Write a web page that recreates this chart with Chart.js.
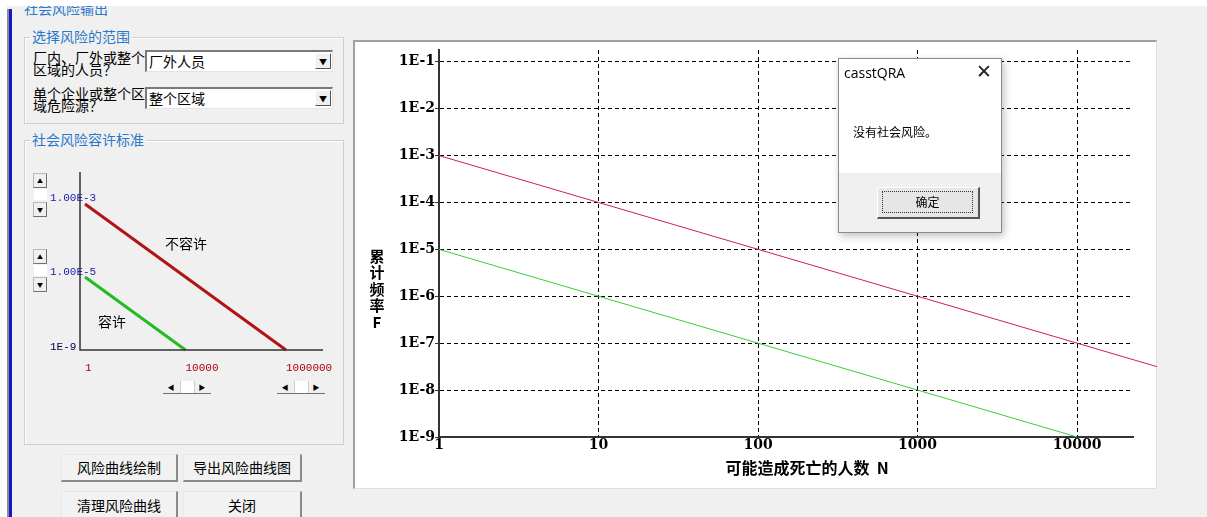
<!DOCTYPE html>
<html>
<head>
<meta charset="utf-8">
<script src="https://cdn.jsdelivr.net/npm/chart.js@4.4.0/dist/chart.umd.min.js"></script>
<style>
  body { margin: 0; width: 1207px; height: 517px; overflow: hidden; background: #f0f0f0; position: relative; font-family: "Noto Sans CJK SC", sans-serif; }
  .abs { position: absolute; }
  .group { position: absolute; border: 1px solid #cfcfcf; box-shadow: inset 1px 1px 0 #fff; }
  .legend { position: absolute; background: #f0f0f0; color: #2a78c8; font-size: 14px; line-height: 16px; padding: 0 2px; }
  .lbl { position: absolute; font-size: 14px; line-height: 12px; color: #000; white-space: nowrap; }
  .combo { position: absolute; background: #fff; border-top: 2px solid #7a7a7a; border-left: 2px solid #7a7a7a; border-right: 1px solid #e4e4e4; border-bottom: 1px solid #e4e4e4; font-size: 14px; line-height: 19px; padding-left: 2px; box-sizing: border-box; }
  .combo .arrow { position: absolute; right: 1px; top: 1px; width: 16px; height: 16px; background: #f0f0f0; border-right: 1px solid #555; border-bottom: 1px solid #555; border-top: 1px solid #fff; border-left: 1px solid #fff; font-size: 8px; line-height: 16px; text-align: center; box-sizing: border-box; }
  .spin { position: absolute; width: 12px; height: 13px; background: #f0f0f0; border: 1px solid #b8b8b8; border-right-color: #707070; border-bottom-color: #707070; font-size: 6px; line-height: 13px; text-align: center; }
  .spinbox { position: absolute; width: 13px; height: 11px; background: #fff; }
  .scroll { position: absolute; height: 12px; background: #f0f0f0; border-bottom: 1px solid #707070; }
  .scroll span { position: absolute; top: 0; height: 12px; font-size: 7px; line-height: 12px; text-align: center; width: 12px; }
  .btn { position: absolute; background: #f2f2f2; border: 1px solid #e8e8e8; border-right: 2px solid #8a8a8a; border-bottom: 2px solid #8a8a8a; font-size: 14px; text-align: center; box-sizing: border-box; }
</style>
</head>
<body>
<div class="abs" style="left:24px;top:-2px;font-size:14px;color:#2a78c8;">社会风险输出</div>
<div class="abs" style="left:0;top:0;width:1207px;height:6px;background:#fff;"></div>
<div class="abs" style="left:0;top:0;width:7px;height:517px;background:#fff;"></div>
<div class="abs" style="left:7px;top:9px;width:2px;height:508px;background:#8c8c8c;"></div>
<div class="abs" style="left:9px;top:9px;width:3px;height:508px;background:#1818cc;"></div>

<!-- 选择风险的范围 -->
<div class="group" style="left:24px;top:37px;width:318px;height:85px;"></div>
<div class="legend" style="left:30px;top:28px;">选择风险的范围</div>
<div class="lbl" style="left:33px;top:51px;">厂内、厂外或整个<br>区域的人员？</div>
<div class="combo" style="left:145px;top:50px;width:188px;height:22px;">厂外人员<div class="arrow">▼</div></div>
<div class="lbl" style="left:33px;top:87px;">单个企业或整个区<br>域危险源？</div>
<div class="combo" style="left:145px;top:87px;width:188px;height:22px;">整个区域<div class="arrow">▼</div></div>

<!-- 社会风险容许标准 -->
<div class="group" style="left:24px;top:140px;width:318px;height:303px;"></div>
<div class="legend" style="left:30px;top:131px;">社会风险容许标准</div>

<div class="spin" style="left:33px;top:173px;">▲</div>
<div class="spinbox" style="left:34px;top:189px;"></div>
<div class="spin" style="left:33px;top:202px;">▼</div>
<div class="spin" style="left:33px;top:249px;">▲</div>
<div class="spinbox" style="left:34px;top:265px;"></div>
<div class="spin" style="left:33px;top:277px;">▼</div>

<canvas id="tolChart" class="abs" width="295" height="212" style="left:45px;top:165px;"></canvas>
<div class="abs" style="left:165px;top:233px;font-size:14px;">不容许</div>
<div class="abs" style="left:98px;top:311px;font-size:14px;">容许</div>

<div class="scroll" style="left:163px;top:381px;width:48px;">
  <span style="left:2px;">◀</span>
  <span style="left:17px;background:#fff;width:13px;border-left:1px solid #ccc;border-right:1px solid #ccc;"></span>
  <span style="left:33px;">▶</span>
</div>
<div class="scroll" style="left:277px;top:381px;width:48px;">
  <span style="left:2px;">◀</span>
  <span style="left:17px;background:#fff;width:13px;border-left:1px solid #ccc;border-right:1px solid #ccc;"></span>
  <span style="left:33px;">▶</span>
</div>

<div class="btn" style="left:61px;top:454px;width:117px;height:28px;line-height:25px;">风险曲线绘制</div>
<div class="btn" style="left:183px;top:454px;width:119px;height:28px;line-height:25px;">导出风险曲线图</div>
<div class="btn" style="left:61px;top:491px;width:117px;height:30px;line-height:26px;">清理风险曲线</div>
<div class="btn" style="left:183px;top:491px;width:119px;height:30px;line-height:26px;">关闭</div>

<!-- main chart panel -->
<div class="abs" style="left:353px;top:40px;width:804px;height:449px;background:#fff;border-top:2px solid #a0a0a0;border-left:2px solid #a0a0a0;border-right:1px solid #e0e0e0;border-bottom:1px solid #e0e0e0;box-sizing:border-box;"></div>
<canvas id="mainChart" class="abs" width="803" height="448" style="left:354px;top:41px;"></canvas>

<!-- message box -->
<div class="abs" style="left:838px;top:58px;width:164px;height:175px;background:#f0f0f0;border:1px solid #8a8a8a;box-sizing:border-box;box-shadow:2px 3px 8px rgba(0,0,0,0.25);">
  <div class="abs" style="left:0;top:0;width:162px;height:114px;background:#fff;"></div>
  <div class="abs" style="left:5px;top:4px;font-family:'Open Sans',sans-serif;font-size:14px;color:#000;">casstQRA</div>
  <div class="abs" style="left:137px;top:1px;font-family:'DejaVu Sans',sans-serif;font-size:19px;font-weight:200;color:#222;">✕</div>
  <div class="abs" style="left:14px;top:64px;font-size:12px;color:#000;">没有社会风险。</div>
  <div class="abs" style="left:38px;top:128px;width:103px;height:32px;background:#e6e6e6;border:1px solid #fff;border-right:2px solid #555;border-bottom:2px solid #555;box-sizing:border-box;">
    <div class="abs" style="left:4px;top:3px;width:91px;height:22px;border:1px dotted #333;box-sizing:border-box;font-size:12px;line-height:20px;text-align:center;">确定</div>
  </div>
</div>

<script>
// main chart data: F-N curve criteria (log-log)
const nTicks = [1, 10, 100, 1000, 10000];
const nLabels = ['1', '10', '100', '1000', '10000'];
const fTicks = [1e-9, 1e-8, 1e-7, 1e-6, 1e-5, 1e-4, 1e-3, 1e-2, 1e-1];
const fLabels = ['1E-9', '1E-8', '1E-7', '1E-6', '1E-5', '1E-4', '1E-3', '1E-2', '1E-1'];

const upperN = [1, 10, 100, 1000, 10000, 31623];
const upperF = [1e-3, 1e-4, 1e-5, 1e-6, 1e-7, 3.16e-8];
const lowerN = [1, 10, 100, 1000, 10000];
const lowerF = [1e-5, 1e-6, 1e-7, 1e-8, 1e-9];

const xTitle = '可能造成死亡的人数  N';
const yTitle = '累计频率F';

// small tolerance criteria sketch
const tolN = ['1', '10000', '1000000'];
const tolF = ['1.00E-3', '1.00E-5', '1E-9'];
const intolN = ['1', '1000000'];
const intolF = ['1.00E-3', '1E-9'];
const tolerN = ['1', '10000'];
const tolerF = ['1.00E-5', '1E-9'];

const tickFont = { family: 'DejaVu Serif', size: 14, weight: 'bold' };

// draws axis titles (y title is stacked vertically)
const axisTitles = {
  id: 'axisTitles',
  afterDraw(chart) {
    const { ctx, chartArea } = chart;
    ctx.save();
    ctx.fillStyle = '#000';
    ctx.textAlign = 'center';
    ctx.textBaseline = 'middle';
    ctx.font = 'bold 16px "Noto Sans CJK SC"';
    ctx.fillText(xTitle, (chartArea.left + chartArea.right) / 2 + 21, chartArea.bottom + 31);
    ctx.font = 'bold 15px "Noto Sans CJK SC"';
    yTitle.split('').forEach((ch, i) => {
      ctx.fillText(ch, chartArea.left - 62, chartArea.top + 206 + i * 16.5);
    });
    ctx.restore();
  }
};

new Chart(document.getElementById('mainChart'), {
  type: 'line',
  data: {
    datasets: [
      {
        data: upperN.map((n, i) => ({ x: n, y: upperF[i] })),
        borderColor: '#cc2244',
        borderWidth: 1,
        pointRadius: 0,
        clip: false,
      },
      {
        data: lowerN.map((n, i) => ({ x: n, y: lowerF[i] })),
        borderColor: '#3ccc3c',
        borderWidth: 1,
        pointRadius: 0,
      },
    ],
  },
  options: {
    responsive: false,
    animation: false,
    devicePixelRatio: 1,
    layout: { padding: { top: 9, right: 24, left: 0, bottom: 0 } },
    plugins: { legend: { display: false }, tooltip: { enabled: false } },
    scales: {
      x: {
        type: 'logarithmic',
        min: 1,
        max: 22400,
        afterBuildTicks: (scale) => { scale.ticks = nTicks.map((v) => ({ value: v })); },
        afterFit: (scale) => { scale.height = 52; },
        ticks: {
          font: tickFont,
          color: '#000',
          padding: 0,
          maxRotation: 0,
          callback: (v) => nLabels[nTicks.indexOf(v)],
        },
        grid: { color: '#000', drawTicks: false, lineWidth: 1 },
        border: { color: '#333', width: 2, dash: [4, 3] },
      },
      y: {
        type: 'logarithmic',
        min: 1e-9,
        max: 0.178,
        afterBuildTicks: (scale) => { scale.ticks = fTicks.map((v) => ({ value: v })); },
        afterFit: (scale) => { scale.width = 85; },
        ticks: {
          font: tickFont,
          color: '#000',
          padding: 0,
          callback: (v) => fLabels[fTicks.findIndex((t) => Math.abs(t - v) / t < 1e-6)],
        },
        grid: { color: '#000', tickColor: '#333', tickLength: 4, lineWidth: 1 },
        border: { color: '#333', width: 2, dash: [4, 3] },
      },
    },
  },
  plugins: [axisTitles],
});

// axis lines of the sketch run past the first/last category;
// y labels overlap the axis line, so they are drawn here too
const sketchAxes = {
  id: 'sketchAxes',
  afterDraw(chart) {
    const { ctx, chartArea } = chart;
    const yScale = chart.scales.y;
    ctx.save();
    ctx.strokeStyle = '#333';
    ctx.lineWidth = 1.5;
    ctx.beginPath();
    ctx.moveTo(chartArea.left - 5, chartArea.top - 32);
    ctx.lineTo(chartArea.left - 5, chartArea.bottom);
    ctx.lineTo(chartArea.right + 37, chartArea.bottom);
    ctx.stroke();

    ctx.font = '11px "Liberation Mono"';
    ctx.textAlign = 'left';
    ctx.textBaseline = 'middle';
    tolF.forEach((lab, i) => {
      ctx.fillStyle = i < 2 ? '#1c1ca8' : '#000050';
      ctx.fillText(lab, chartArea.left - 35, yScale.getPixelForValue(i) - 6 + i * 1.5);
    });
    ctx.restore();
  }
};

new Chart(document.getElementById('tolChart'), {
  type: 'line',
  data: {
    datasets: [
      {
        data: intolN.map((n, i) => ({ x: n, y: intolF[i] })),
        borderColor: '#b01414',
        borderWidth: 3,
        pointRadius: 0,
        clip: false,
      },
      {
        data: tolerN.map((n, i) => ({ x: n, y: tolerF[i] })),
        borderColor: '#22bb22',
        borderWidth: 3,
        pointRadius: 0,
        clip: false,
      },
    ],
  },
  options: {
    responsive: false,
    animation: false,
    devicePixelRatio: 1,
    layout: { padding: { top: 39, right: 54, left: 5, bottom: 0 } },
    plugins: { legend: { display: false }, tooltip: { enabled: false } },
    scales: {
      x: {
        type: 'category',
        labels: tolN,
        offset: false,
        afterFit: (scale) => { scale.height = 27; },
        ticks: {
          align: 'start',
          padding: 3,
          maxRotation: 0,
          autoSkip: false,
          color: '#b00010',
          font: { family: 'Liberation Mono', size: 11 },
        },
        grid: { display: false },
        border: { display: false },
      },
      y: {
        type: 'category',
        labels: tolF,
        offset: false,
        afterFit: (scale) => { scale.width = 35; },
        ticks: { display: false },
        grid: { display: false },
        border: { display: false },
      },
    },
  },
  plugins: [sketchAxes],
});
</script>
</body>
</html>
